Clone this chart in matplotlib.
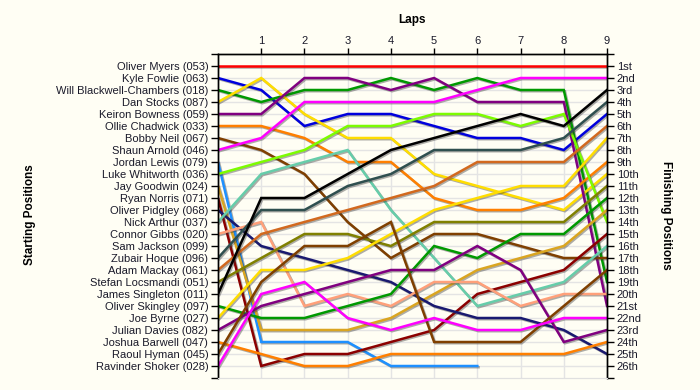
import matplotlib
matplotlib.use("Agg")
import matplotlib.pyplot as plt
import matplotlib.patheffects as pe
import numpy as np

plt.rcParams['font.family'] = ['Liberation Sans', 'DejaVu Sans']

# grille de départ (position 1 -> 26)
drivers = ["Oliver Myers (053)", "Kyle Fowlie (063)", "Will Blackwell-Chambers (018)",
           "Dan Stocks (087)", "Keiron Bowness (059)", "Ollie Chadwick (033)",
           "Bobby Neil (067)", "Shaun Arnold (046)", "Jordan Lewis (079)",
           "Luke Whitworth (036)", "Jay Goodwin (024)", "Ryan Norris (071)",
           "Oliver Pidgley (068)", "Nick Arthur (037)", "Connor Gibbs (020)",
           "Sam Jackson (099)", "Zubair Hoque (096)", "Adam Mackay (061)",
           "Stefan Locsmandi (051)", "James Singleton (011)", "Oliver Skingley (097)",
           "Joe Byrne (027)", "Julian Davies (082)", "Joshua Barwell (047)",
           "Raoul Hyman (045)", "Ravinder Shoker (028)"]

finish_labels = ["1st", "2nd", "3rd", "4th", "5th", "6th", "7th", "8th", "9th", "10th",
                 "11th", "12th", "13th", "14th", "15th", "16th", "17th", "18th", "19th",
                 "20th", "21st", "22nd", "23rd", "24th", "25th", "26th"]

laps = [0, 1, 2, 3, 4, 5, 6, 7, 8, 9]

# positions au tour 0..9
myers = [1, 1, 1, 1, 1, 1, 1, 1, 1, 1]
fowlie = [2, 3, 6, 5, 5, 6, 7, 7, 8, 5]
blackwell = [3, 4, 3, 3, 2, 3, 2, 3, 3, 19]
stocks = [4, 2, 5, 7, 7, 10, 11, 12, 13, 10]
bowness = [5, 5, 2, 2, 3, 2, 4, 4, 4, 21]
chadwick = [6, 6, 7, 9, 9, 12, 13, 13, 12, 9]
neil = [7, 8, 10, 14, 17, 15, 15, 16, 17, 17]
arnold = [8, 7, 4, 4, 4, 4, 3, 2, 2, 2]
lewis = [9, 24, 24, 24, 26, 26, 26, None, None, None]
whitworth = [10, 9, 8, 6, 6, 5, 5, 6, 5, 14]
goodwin = [11, 23, 23, 23, 22, 20, 18, 17, 16, 13]
norris = [12, 26, 25, 25, 24, 23, 20, 19, 18, 15]
pidgley = [13, 16, 17, 18, 19, 21, 22, 22, 23, 25]
arthur = [14, 10, 9, 8, 13, 17, 21, 20, 19, 16]
gibbs = [15, 14, 21, 20, 21, 19, 19, 21, 20, 20]
hoque = [17, 13, 13, 11, 10, 8, 8, 8, 7, 4]
mackay = [18, 15, 14, 13, 12, 11, 9, 9, 9, 6]
locsmandi = [19, 17, 15, 15, 16, 14, 14, 14, 14, 11]
singleton = [20, 12, 12, 10, 8, 7, 6, 5, 6, 3]
skingley = [21, 22, 22, 21, 20, 16, 17, 15, 15, 12]
byrne = [22, 18, 18, 17, 15, 13, 12, 11, 11, 7]
davies = [23, 21, 20, 19, 18, 18, 16, 18, 24, 23]
barwell = [24, 25, 26, 26, 25, 25, 25, 25, 25, 24]
hyman = [25, 19, 16, 16, 14, 24, 24, 24, 21, 18]
shoker = [26, 20, 19, 22, 23, 22, 23, 23, 22, 22]

series = [
    (myers, '#ff0000'), (fowlie, '#0000dd'), (blackwell, '#009900'),
    (stocks, '#ffdd00'), (bowness, '#800080'), (chadwick, '#ff7f00'),
    (neil, '#7f3f00'), (arnold, '#ff00ff'), (lewis, '#1e90ff'),
    (whitworth, '#7cfc00'), (goodwin, '#daa520'), (norris, '#8b0000'),
    (pidgley, '#191970'), (arthur, '#66cdaa'), (gibbs, '#ffa07a'),
    (hoque, '#2f4f4f'), (mackay, '#d2691e'), (locsmandi, '#808000'),
    (singleton, '#000000'), (skingley, '#009900'), (byrne, '#ffdd00'),
    (davies, '#800080'), (barwell, '#ff7f00'), (hyman, '#7f3f00'),
    (shoker, '#ff00ff'),
]

bg = '#fffef4'
text_col = '#1a1a2a'

fig = plt.figure(figsize=(7, 3.9), dpi=100, facecolor=bg)
ax = fig.add_axes([218 / 700, 12 / 390, 389 / 700, 324 / 390], facecolor=bg)

for pos, col in series:
    y = np.array([np.nan if p is None else p for p in pos], dtype=float)
    ax.plot(laps, y, color=col, lw=1.8, solid_joinstyle='miter',
            path_effects=[pe.SimpleLineShadow(offset=(0.9, -0.9), shadow_color='#333333', alpha=0.4),
                          pe.Normal()])

ax.set_xlim(0, 9)
ax.set_ylim(27, 0)

# axe du haut : tours
ax.xaxis.tick_top()
ax.set_xticks(range(1, 10))
ax.set_xticklabels([str(i) for i in range(1, 10)], fontsize=8, color=text_col)
ax.tick_params(axis='x', direction='out', length=4, width=1, pad=2)

# axe gauche : grille de départ
ax.set_yticks(range(1, 27))
ax.set_yticklabels(drivers, fontsize=8, color=text_col)
ax.set_yticks([0, 27], minor=True)
ax.tick_params(axis='y', which='both', direction='out', length=5, width=1, pad=2)

# axe droit : arrivée
ax2 = ax.twinx()
ax2.set_ylim(27, 0)
ax2.set_yticks(range(1, 27))
ax2.set_yticklabels(finish_labels, fontsize=8, color=text_col)
ax2.set_yticks([0, 27], minor=True)
ax2.tick_params(axis='y', which='both', direction='out', length=5, width=1, pad=2)

# grille
ax.set_axisbelow(True)
for x in range(1, 9):
    ax.axvline(x, color='#e4e4e4', lw=1, zorder=0)
for yy in range(1, 27):
    ax.axhline(yy, color='#e4e4e4', lw=1, zorder=0)

for a in (ax, ax2):
    a.spines['bottom'].set_color('#e0e0e0')
    for s in ('left', 'top', 'right'):
        a.spines[s].set_color('black')
        a.spines[s].set_linewidth(1)

fig.text(412 / 700, 1 - 20 / 390, 'Laps', ha='center', va='center',
         fontsize=8.5, fontweight='bold', color='black')
fig.text(30 / 700, 1 - 215 / 390, 'Starting Positions', ha='center', va='center',
         rotation=90, fontsize=8.5, fontweight='bold', color='black')
fig.text(666 / 700, 1 - 215 / 390, 'Finishing Positions', ha='center', va='center',
         rotation=270, fontsize=8.5, fontweight='bold', color='black')

fig.savefig('out.png', dpi=100, facecolor=bg)
